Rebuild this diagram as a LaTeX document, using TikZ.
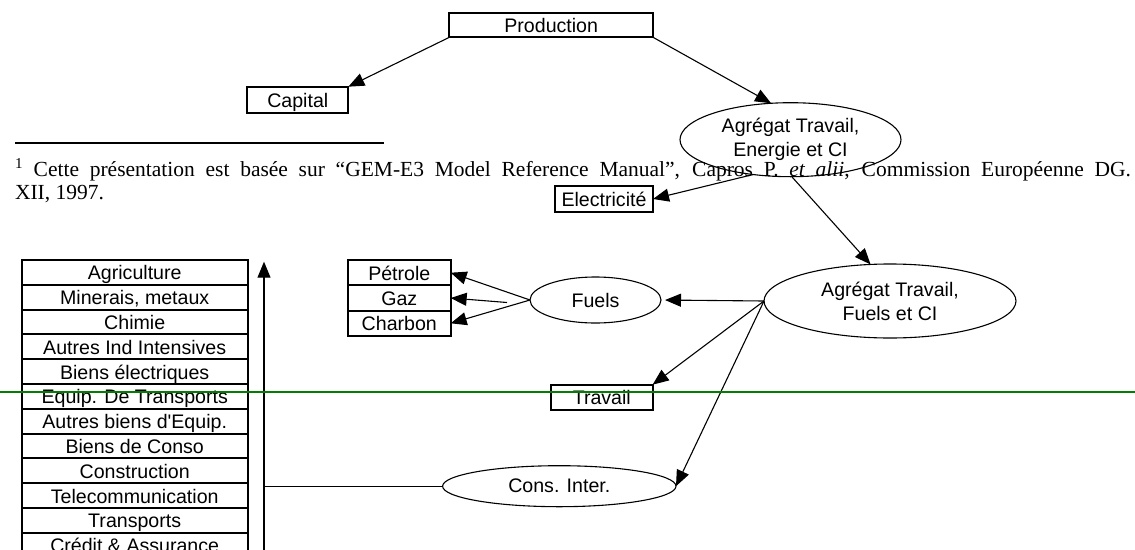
\documentclass[tikz,border=0pt]{standalone}
\usepackage{fontspec}
\setmainfont{Liberation Sans}
\newfontfamily\fnfont{Liberation Serif}
\usetikzlibrary{arrows.meta,shapes.geometric}
\begin{document}
\begin{tikzpicture}[x=1pt,y=-1pt,
  every node/.style={inner sep=0pt, outer sep=0pt},
  sf/.style={font=\fontsize{19.6}{24}\selectfont},
  box/.style={sf, draw, line width=2pt, text height=17pt, text depth=2pt},
  oval/.style={sf, draw, ellipse, line width=1.1pt, align=center},
  conn/.style={line width=1.1pt, -{Triangle[length=16pt,width=13pt]}},
  plain/.style={line width=1.1pt},
  fnote/.style={font=\fnfont\fontsize{21.5}{23}\selectfont, anchor=base west},
  rule/.style={line width=1.8pt},
  scanline/.style={draw=green!50!black, line width=1.5pt}
]
\useasboundingbox (0,0) rectangle (1135,549);
\clip (0,0) rectangle (1135,549);

% footnote
\draw[rule] (15,142.7) -- (384,142.7);
\node[fnote] (fn1) at (15,176) {\makebox[1116pt][s]{\textsuperscript{1} Cette présentation est basée sur “GEM-E3 Model Reference Manual”, Capros P. \textit{et alii}, Commission Européenne DG.}};
\node[fnote] (fn2) at (15,199) {XII, 1997.};

% nodes
\node[box, minimum width=203.7pt, minimum height=24.6pt] (prod) at (551.2,25) {Production};
\node[box, minimum width=101pt, minimum height=26pt] (cap) at (297.8,99.7) {Capital};
\node[oval, minimum width=221pt, minimum height=74pt] (agg1) at (790.5,139.7) {Agrégat Travail,\\Energie et CI};
\node[box, minimum width=98pt, minimum height=25.7pt] (elec) at (604,199) {Electricité};
\node[oval, minimum width=252pt, minimum height=74pt] (agg2) at (890,301) {Agrégat Travail,\\Fuels et CI};
\node[oval, minimum width=131pt, minimum height=46pt] (fuels) at (595.5,300) {Fuels};
\node[box, minimum width=102.7pt, minimum height=25.3pt] (pet) at (399.3,272.7) {Pétrole};
\node[box, minimum width=102.7pt, minimum height=25.3pt] (gaz) at (399.3,298) {Gaz};
\node[box, minimum width=102.7pt, minimum height=25.3pt] (charb) at (399.3,323.3) {Charbon};
\node[box, minimum width=101.7pt, minimum height=25.3pt] (trav) at (601.8,397.3) {Travail};
\node[oval, minimum width=233.4pt, minimum height=41pt] (cons) at (559.3,486.2) {Cons. Inter.};

\foreach \t [count=\i] in {Agriculture, {Minerais, metaux}, Chimie, Autres Ind Intensives, Biens électriques, Equip. De Transports, Autres biens d\textquotesingle Equip., Biens de Conso, Construction, Telecommunication, Transports, Crédit \& Assurance}
  \node[box, minimum width=226pt, minimum height=24.8pt] (s\i) at (134.7,{260+24.8*(\i-0.5)}) {\t};

\coordinate (gsrc) at (507,302.5);
\coordinate (vtop) at (264,261.7);
\coordinate (vbot) at (264,560);

% connectors
\draw[conn] (prod.south west) -- (cap.north east);
\draw[conn] (prod.south east) -- (agg1.118);
\draw[conn] (agg1.223.5) -- (elec.east);
\draw[conn] (agg1.-88) -- (agg2.118);
\draw[conn, shorten >=4pt] (agg2.west) -- (fuels.east);
\draw[conn] (agg2.west) -- (trav.north east);
\draw[conn] (agg2.west) -- (cons.east);
\draw[conn] (fuels.west) -- (pet.east);
\draw[conn] (gsrc) -- (gaz.east);
\draw[conn] (fuels.west) -- (charb.east);
\draw[plain] (cons.west) -- (cons.west -| vtop);
\draw[conn] (vbot) -- (vtop);

\draw[scanline] (0,392) -- (1135,392);
\end{tikzpicture}
\end{document}
